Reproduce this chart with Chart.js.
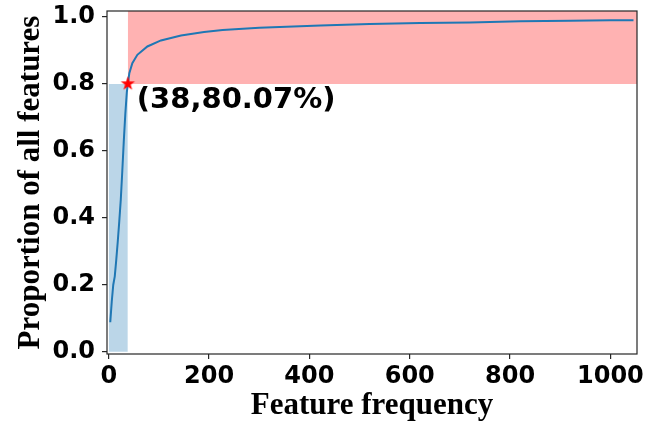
<!DOCTYPE html>
<html>
<head>
<meta charset="utf-8">
<script src="https://cdn.jsdelivr.net/npm/chart.js@4/dist/chart.umd.min.js"></script>
<style>
  body { margin: 0; background: #fff; }
  #wrap { width: 646px; height: 425px; }
</style>
</head>
<body>
<div id="wrap"><canvas id="chart" width="646" height="425"></canvas></div>
<script>
// cumulative proportion of features vs. feature frequency
const freqX = [3, 6, 9, 12, 15, 18, 21, 24, 27, 30, 33, 36, 38, 41, 47, 57, 77, 104, 144, 190, 227, 300, 422, 520, 621, 720, 820, 920, 1000, 1046];
const propY = [0.088, 0.15, 0.2, 0.225, 0.275, 0.33, 0.39, 0.455, 0.54, 0.63, 0.71, 0.775, 0.8007, 0.832, 0.862, 0.887, 0.912, 0.930, 0.945, 0.955, 0.961, 0.968, 0.975, 0.979, 0.982, 0.984, 0.987, 0.989, 0.990, 0.990];

const kneePoint = [38, 0.8007];
const kneeLabel = '(38,80.07%)';
const labelAnchor = [56, 0.727];

const xRange = [-3.5, 1053];
const yRange = [-0.007, 1.018];
const xTicks = [0, 200, 400, 600, 800, 1000];
const yTicks = [0.0, 0.2, 0.4, 0.6, 0.8, 1.0];

// shaded spans: blue below the knee, red above it
const blueSpanX = [0, 38];
const blueSpanTop = 0.8;
const redSpanX = [38, 1053];
const redSpanY = [0.8, 1.018];

function makeStar(r, color) {
  const c = document.createElement('canvas');
  const s = Math.ceil(r * 2 + 2);
  c.width = c.height = s;
  const g = c.getContext('2d');
  g.beginPath();
  for (let i = 0; i < 10; i++) {
    const rad = i % 2 ? r * 0.39 : r;
    const a = -Math.PI / 2 + i * Math.PI / 5;
    g.lineTo(s / 2 + rad * Math.cos(a), s / 2 + rad * Math.sin(a));
  }
  g.closePath();
  g.fillStyle = color;
  g.fill();
  return c;
}

const frame = {
  id: 'frame',
  afterDatasetsDraw(chart) {
    const { ctx, chartArea: a, scales } = chart;
    ctx.save();
    ctx.font = 'bold 29px "DejaVu Sans"';
    ctx.fillStyle = '#000';
    ctx.textBaseline = 'alphabetic';
    ctx.textAlign = 'left';
    ctx.fillText(kneeLabel, scales.x.getPixelForValue(labelAnchor[0]), scales.y.getPixelForValue(labelAnchor[1]));
    ctx.strokeStyle = '#262626';
    ctx.lineWidth = 1.2;
    ctx.strokeRect(a.left, a.top, a.right - a.left, a.bottom - a.top);
    ctx.restore();
  }
};

function noOverhang(s) {
  s.paddingLeft = 0;
  s.paddingRight = 0;
  s.paddingTop = 0;
  s.paddingBottom = 0;
}

const tickFont = { family: 'DejaVu Sans', weight: 'bold', size: 24 };
const titleFont = { family: 'Liberation Serif', weight: 'bold', size: 31 };

new Chart(document.getElementById('chart'), {
  type: 'scatter',
  data: {
    datasets: [
      {
        data: [{ x: kneePoint[0], y: kneePoint[1] }],
        pointStyle: makeStar(7.5, '#ff0000'),
        pointRadius: 7,
        order: 0,
      },
      {
        data: freqX.map((x, i) => ({ x, y: propY[i] })),
        showLine: true,
        borderColor: '#1f77b4',
        borderWidth: 2,
        pointRadius: 0,
        tension: 0,
        order: 1,
      },
      {
        data: blueSpanX.map(x => ({ x, y: blueSpanTop })),
        showLine: true,
        borderWidth: 0,
        pointRadius: 0,
        fill: 'origin',
        backgroundColor: 'rgba(31,119,180,0.3)',
        order: 2,
      },
      {
        data: redSpanX.map(x => ({ x, y: redSpanY[1] })),
        showLine: true,
        borderWidth: 0,
        pointRadius: 0,
        fill: { value: redSpanY[0] },
        backgroundColor: 'rgba(255,0,0,0.3)',
        order: 3,
      },
    ],
  },
  options: {
    responsive: false,
    animation: false,
    layout: { padding: { top: 11, right: 9, left: 0, bottom: 0 } },
    plugins: { legend: { display: false }, tooltip: { enabled: false } },
    scales: {
      x: {
        type: 'linear',
        min: xRange[0],
        max: xRange[1],
        afterBuildTicks: s => { s.ticks = xTicks.map(v => ({ value: v })); },
        afterFit: s => { s.height = 71; noOverhang(s); },
        border: { display: false },
        grid: { drawOnChartArea: false, tickLength: 5, color: '#262626', lineWidth: 1.2 },
        ticks: { font: tickFont, color: '#000', padding: 3, maxRotation: 0, callback: v => String(v) },
        title: { display: true, text: 'Feature frequency', font: titleFont, color: '#000', padding: { top: 0, bottom: 0 } },
      },
      y: {
        min: yRange[0],
        max: yRange[1],
        afterBuildTicks: s => { s.ticks = yTicks.map(v => ({ value: v })); },
        afterFit: s => { s.width = 107; noOverhang(s); },
        border: { display: false },
        grid: { drawOnChartArea: false, tickLength: 5, color: '#262626', lineWidth: 1.2 },
        ticks: { font: tickFont, color: '#000', padding: 7, callback: v => v.toFixed(1) },
        title: { display: true, text: 'Proportion of all features', font: titleFont, color: '#000', padding: { top: 12, bottom: 0 } },
      },
    },
  },
  plugins: [frame],
});
</script>
</body>
</html>
